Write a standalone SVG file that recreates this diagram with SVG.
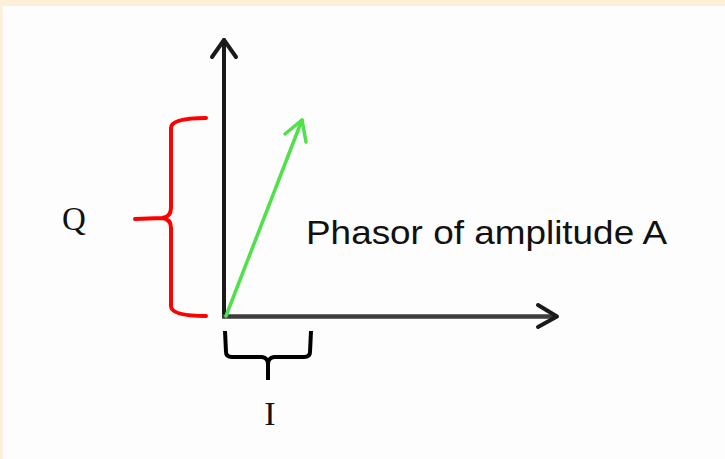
<svg xmlns="http://www.w3.org/2000/svg" width="725" height="459" viewBox="0 0 725 459">
  <style>
    .ax { fill: none; stroke: #1a1a1a; stroke-width: 4; stroke-linecap: round; stroke-linejoin: round; }
    .hx { fill: none; stroke: #3c3c3c; stroke-width: 4.5; }
    .ph { fill: none; stroke: #4fe04a; stroke-width: 3.5; stroke-linecap: round; stroke-linejoin: round; }
    .br { fill: none; stroke: #ff0000; stroke-width: 4; stroke-linecap: round; stroke-linejoin: round; }
    .bk { fill: none; stroke: #000000; stroke-width: 4; stroke-linecap: butt; stroke-linejoin: round; }
    .serif { font-family: "Liberation Serif", "Times New Roman", serif; fill: #111; }
    .sans { font-family: "Liberation Sans", Arial, sans-serif; fill: #111; }
  </style>
  <rect x="0" y="0" width="725" height="459" fill="#fdfdfd"/>
  <rect x="0" y="0" width="725" height="6" fill="#fdf0d8"/>
  <rect x="0" y="0" width="2.5" height="459" fill="#fdf0d8"/>

  <g id="connectors">
    <g id="q-axis">
      <line class="ax" x1="224" y1="316" x2="224" y2="40"/>
      <polyline class="ax" points="212,57 224,40 236,57"/>
    </g>
    <g id="i-axis">
      <line class="hx" x1="222" y1="316.5" x2="556" y2="316.5"/>
      <polyline class="ax" points="538,305 557,316.5 538,327"/>
    </g>
    <g id="phasor">
      <line class="ph" x1="226" y1="316" x2="302" y2="120"/>
      <polyline class="ph" points="285,134 302,120 306,142"/>
    </g>
  </g>

  <g id="q-brace">
    <path class="br" d="M206,118 Q171,118 171,128 L171,208 Q171,217 162,218 L135,219 M162,218 Q171,219 171,228 L171,306 Q171,316 206,316"/>
  </g>
  <g id="i-brace">
    <path class="bk" d="M225,331 L226,352 Q226,357 232,357 L262,357 Q268,358 268,364 L268,380 M268,364 Q268,358 274,357 L304,357 Q310,357 310,352 L311,331"/>
  </g>

  <g id="label-q">
    <text class="serif" x="74" y="230" font-size="33" text-anchor="middle">Q</text>
  </g>
  <g id="label-i">
    <text class="serif" x="270" y="425" font-size="34" text-anchor="middle">I</text>
  </g>
  <g id="label-phasor">
    <text class="sans" x="306" y="244" font-size="33" textLength="361" lengthAdjust="spacingAndGlyphs">Phasor of amplitude A</text>
  </g>
</svg>
